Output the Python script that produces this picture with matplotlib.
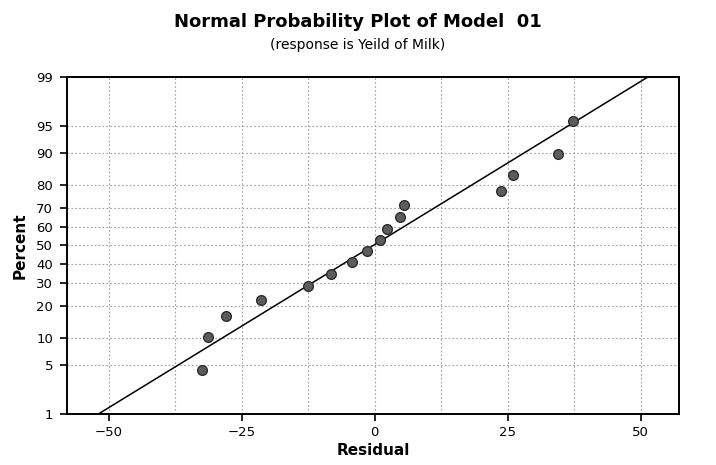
import matplotlib
matplotlib.use("Agg")
import matplotlib.pyplot as plt
import numpy as np
from statistics import NormalDist

# residuals, in rank order
residual = [-32.5, -31.3, -28.0, -21.3, -12.6, -8.1, -4.3, -1.4,
            1.0, 2.25, 4.85, 5.6, 23.7, 26.1, 34.4, 37.2]
# plotted percent (median ranks)
percent = [4.3, 10.4, 16.5, 22.6, 28.7, 34.8, 40.9, 47.0,
           53.0, 59.1, 65.2, 71.3, 77.4, 83.5, 89.6, 95.7]

y_ticks = [1, 5, 10, 20, 30, 40, 50, 60, 70, 80, 90, 95, 99]
x_ticks = [-50, -25, 0, 25, 50]
x_minor = [-37.5, -12.5, 12.5, 37.5]

nd = NormalDist()
_ppf = np.vectorize(lambda v: nd.inv_cdf(v / 100.0), otypes=[float])
_cdf = np.vectorize(lambda v: nd.cdf(v) * 100.0, otypes=[float])


def fwd(p):
    p = np.clip(np.asarray(p, dtype=float), 1e-6, 100 - 1e-6)
    return _ppf(p)


def inv(z):
    return _cdf(np.asarray(z, dtype=float))


fig = plt.figure(figsize=(7.16, 4.65), dpi=100)
ax = fig.add_axes([0.0936, 0.1097, 0.9483 - 0.0936, 0.8344 - 0.1097])
ax.set_yscale("function", functions=(fwd, inv))

# fitted normal line from mean and sd of the residuals
mu = np.mean(residual)
sd = np.std(residual, ddof=1)
xx = np.linspace(-57.8, 57.2, 200)
yy = _cdf((xx - mu) / sd)
ax.plot(xx, yy, color="black", lw=1.1, zorder=3)

ax.plot(residual, percent, "o", ms=7, mfc="#5c5c5c", mec="#2e2e2e",
        mew=1.0, zorder=4)

ax.set_xlim(-57.8, 57.2)
ax.set_ylim(1, 99)
ax.set_xticks(x_ticks)
ax.set_xticks(x_minor, minor=True)
ax.set_yticks(y_ticks)
ax.set_yticklabels([str(t) for t in y_ticks])
ax.yaxis.set_minor_locator(matplotlib.ticker.NullLocator())
ax.tick_params(axis="both", which="major", direction="out", length=5,
               width=1.2, labelsize=9.5, colors="black")
ax.tick_params(axis="x", which="minor", length=0)
ax.tick_params(axis="y", pad=5)

gkw = dict(color="#a0a0a0", lw=0.8, ls=(0, (1.5, 2.0)))
ax.grid(True, axis="x", which="both", **gkw)
ax.grid(True, axis="y", which="major", **gkw)
for s in ax.spines.values():
    s.set_linewidth(1.4)

ax.set_xlabel("Residual", fontsize=11, fontweight="bold", labelpad=3)
ax.set_ylabel("Percent", fontsize=11, fontweight="bold", labelpad=6)

fig.text(0.5, 0.953, "Normal Probability Plot of Model  01", ha="center",
         va="center", fontsize=13, fontweight="bold")
fig.text(0.5, 0.903, "(response is Yeild of Milk)", ha="center", va="center",
         fontsize=10)

fig.savefig("out.png", dpi=100)
